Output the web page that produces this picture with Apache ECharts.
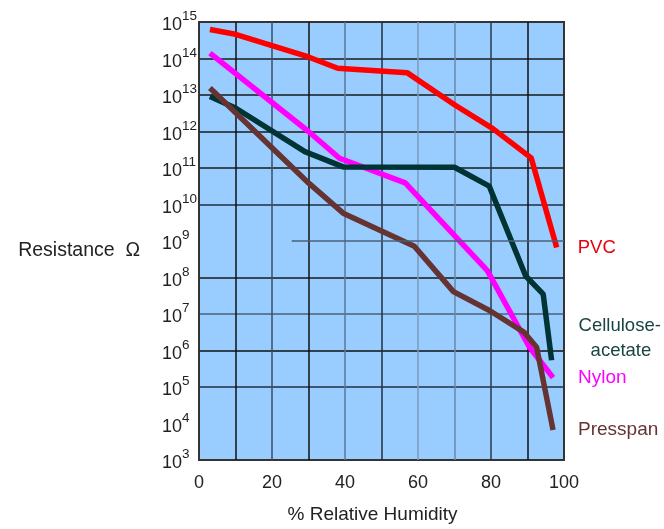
<!DOCTYPE html>
<html>
<head>
    <meta charset="UTF-8">
    <title>Resistance vs Relative Humidity</title>
    <script src="https://cdn.jsdelivr.net/npm/echarts/dist/echarts.min.js"></script>
    <style>
    body { margin: 0; background: #fff; }
    #chart { width: 664px; height: 529px; }
  </style>
</head>
<body>
<div id="chart"></div>
<script>
    // humidity (%) and resistance (ohm)
    var pvcX = [3, 10, 30, 38, 57, 70, 80.5, 91, 98];
    var pvcR = [6.2e14, 4.6e14, 1.1e14, 5.4e13, 4.1e13, 5.4e12, 1.2e12, 1.9e11, 6.6e8];

    var nylonX = [3, 30, 38.5, 56.5, 79, 90.5, 97];
    var nylonR = [1.4e14, 1e12, 1.85e11, 3.9e10, 1.55e8, 1.25e6, 1.8e5];

    var celluloseX = [3, 10, 29, 39.5, 70, 79.5, 89.5, 94.3, 96.6];
    var celluloseR = [9.1e12, 4.4e12, 2.8e11, 1.07e11, 1.05e11, 3.2e10, 1.1e8, 3.5e7, 5.4e5];

    var presspanX = [3, 30, 39.5, 59, 69.7, 79.7, 89, 92.5, 97];
    var presspanR = [1.55e13, 3.9e10, 5.8e9, 7.2e8, 4.1e7, 1.23e7, 3.2e6, 1.23e6, 6.6e3];

    var xTicks = [0, 20, 40, 60, 80, 100];

    function pairs(xs, ys) {
      return xs.map(function (x, i) { return [x, ys[i]]; });
    }

    var font = 'Liberation Sans, Arial, sans-serif';
    var myChart = echarts.init(document.getElementById('chart'));

    // colours of the grid lines, one per tick (the 10^4 line is missing in the original)
    var hLineColors = ['#333', 'rgba(0,0,0,0)', '#22303e', '#111', '#4a6078', '#1a1a1a',
      'rgba(0,0,0,0)', '#22303e', '#1a1a1a', '#1a1a1a', '#1a1a1a', '#1a1a1a', '#333'];
    var vLineColors = ['#333', '#111', '#3a4f66', '#111', '#5a7896', '#22303e',
      '#7a9bbd', '#6a8aa8', '#2a3a4a', '#111', '#333'];

    function line(name, data, color, label) {
      return {
        name: name,
        type: 'line',
        data: data,
        symbol: 'none',
        lineStyle: { color: color, width: 5.5 },
        endLabel: label
      };
    }

    var option = {
      animation: false,
      grid: {
        left: 199, right: 100, top: 22, bottom: 67,
        show: true,
        backgroundColor: '#99ccff',
        borderColor: '#3a3a3a',
        borderWidth: 2
      },
      xAxis: {
        type: 'value',
        min: 0, max: 100, interval: 10,
        name: '% Relative Humidity',
        nameLocation: 'middle',
        nameGap: 45,
        nameTextStyle: { fontFamily: font, fontSize: 19, color: '#222', padding: [0, 18, 0, 0] },
        axisLine: { show: false },
        axisTick: { show: false },
        axisLabel: {
          margin: 14,
          fontFamily: font, fontSize: 18, color: '#222',
          formatter: function (v) { return xTicks.indexOf(v) >= 0 ? String(v) : ''; }
        },
        splitLine: { show: true, lineStyle: { color: vLineColors, width: 1.5 } }
      },
      yAxis: {
        type: 'log',
        logBase: 10,
        min: 1e3, max: 1e15, interval: 1,
        name: 'Resistance  Ω',
        nameLocation: 'middle',
        nameRotate: 0,
        nameGap: 59,
        nameTextStyle: { fontFamily: font, fontSize: 19.5, color: '#222', verticalAlign: 'top' },
        axisLine: { show: false },
        axisTick: { show: false },
        axisLabel: {
          margin: 37,
          align: 'left',
          formatter: function (v) {
            return '{b|10}{s|' + Math.round(Math.log10(v)) + '}';
          },
          rich: {
            b: { fontFamily: font, fontSize: 18, color: '#222', verticalAlign: 'bottom' },
            s: { fontFamily: font, fontSize: 13.5, color: '#222', padding: [0, 0, 11, 0], verticalAlign: 'bottom' }
          }
        },
        splitLine: { show: true, lineStyle: { color: hLineColors, width: 1.5 } }
      },
      series: [
        line('PVC', pairs(pvcX, pvcR), '#ff0000', {
          show: true, distance: 21, formatter: 'PVC',
          fontFamily: font, fontSize: 18.5, color: '#e8000b'
        }),
        line('Nylon', pairs(nylonX, nylonR), '#ff00ff', {
          show: true, distance: 25, formatter: 'Nylon', padding: [6, 0, 0, 0],
          fontFamily: font, fontSize: 19, color: '#ff00ff'
        }),
        line('Cellulose-acetate', pairs(celluloseX, celluloseR), '#003333', {
          show: true, distance: 27,
          formatter: '{a|Cellulose-}\n{c|acetate}',
          padding: [0, 0, 44, 0],
          rich: {
            a: { fontFamily: font, fontSize: 18.5, color: '#1a4444', lineHeight: 25 },
            c: { fontFamily: font, fontSize: 18.5, color: '#1a4444', lineHeight: 25, padding: [0, 0, 0, 12] }
          }
        }),
        line('Presspan', pairs(presspanX, presspanR), '#663333', {
          show: true, distance: 25, formatter: 'Presspan',
          fontFamily: font, fontSize: 19, color: '#663333'
        })
      ]
    };
    // partial 10^9 grid line, starts near 25 %
    option.series[0].markLine = {
      silent: true,
      symbol: 'none',
      label: { show: false },
      lineStyle: { color: '#4a6078', width: 1.5, type: 'solid' },
      data: [[{ coord: [25.4, 1e9] }, { coord: [100, 1e9] }]]
    };
    option.series[0].z = 1;
    myChart.setOption(option);
</script>
</body>
</html>
